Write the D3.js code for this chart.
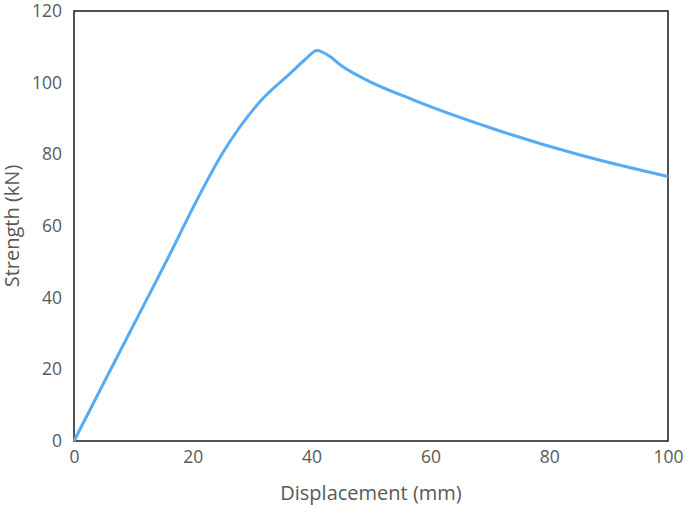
<!DOCTYPE html>
<html>
<head>
<meta charset="utf-8">
<script src="https://d3js.org/d3.v7.min.js"></script>
<style>
  body { margin: 0; background: #fff; }
  text { font-family: "Open Sans", sans-serif; fill: #595959; }
</style>
</head>
<body>
<div id="plot_area"></div>
<script>
// values
var displacement = [0, 5, 10, 16.5, 20, 25, 31.3, 36.4, 39, 40.9, 43.1, 44.8, 48.7, 57.1, 71.2, 85.2, 100];
var strength     = [0, 16.2, 32.3, 53.3, 65, 80.3, 94.7, 102.6, 106.6, 109.0, 107.3, 105.0, 101.2, 95.2, 86.8, 79.8, 73.8];
var xTicks = [0, 20, 40, 60, 80, 100];
var yTicks = [0, 20, 40, 60, 80, 100, 120];

var W = 685, H = 507;
var margin = {top: 11, right: 17, bottom: 66, left: 74},
    width = W - margin.left - margin.right,
    height = H - margin.top - margin.bottom;

var svg = d3.select('#plot_area')
  .append("svg")
    .attr("width", W)
    .attr("height", H)
  .append("g")
    .attr("transform", "translate(" + margin.left + "," + margin.top + ")");

var x = d3.scaleLinear().domain([0, 100]).range([0, width]);
var y = d3.scaleLinear().domain([0, 120]).range([height, 0]);

// x axis labels
var xAxis = svg.append("g")
  .attr("transform", "translate(0," + height + ")")
  .call(d3.axisBottom(x).tickValues(xTicks).tickSize(0).tickPadding(10));
xAxis.select(".domain").remove();
xAxis.selectAll("text").style("font-size", "17.5px").attr("fill", "#595959");

// y axis labels
var yAxis = svg.append("g")
  .call(d3.axisLeft(y).tickValues(yTicks).tickSize(0).tickPadding(12));
yAxis.select(".domain").remove();
yAxis.selectAll("text").style("font-size", "17.5px").attr("fill", "#595959");

// frame
svg.append("rect")
  .attr("x", 0).attr("y", 0)
  .attr("width", width).attr("height", height)
  .attr("fill", "none")
  .attr("stroke", "#1a1a1a")
  .attr("stroke-width", 1.5);

// curve
var line = d3.line()
  .x(function(d, i) { return x(displacement[i]); })
  .y(function(d) { return y(d); })
  .curve(d3.curveMonotoneX);

svg.append("path")
  .datum(strength)
  .attr("fill", "none")
  .attr("stroke", "#57abf3")
  .attr("stroke-width", 3)
  .attr("stroke-linejoin", "round")
  .attr("d", line);

// axis titles
svg.append("text")
  .attr("x", width / 2)
  .attr("y", height + 59)
  .attr("text-anchor", "middle")
  .style("font-size", "20px")
  .text("Displacement (mm)");

svg.append("text")
  .attr("transform", "translate(" + (-55) + "," + (height / 2) + ") rotate(-90)")
  .attr("text-anchor", "middle")
  .style("font-size", "20px")
  .text("Strength (kN)");
</script>
</body>
</html>
